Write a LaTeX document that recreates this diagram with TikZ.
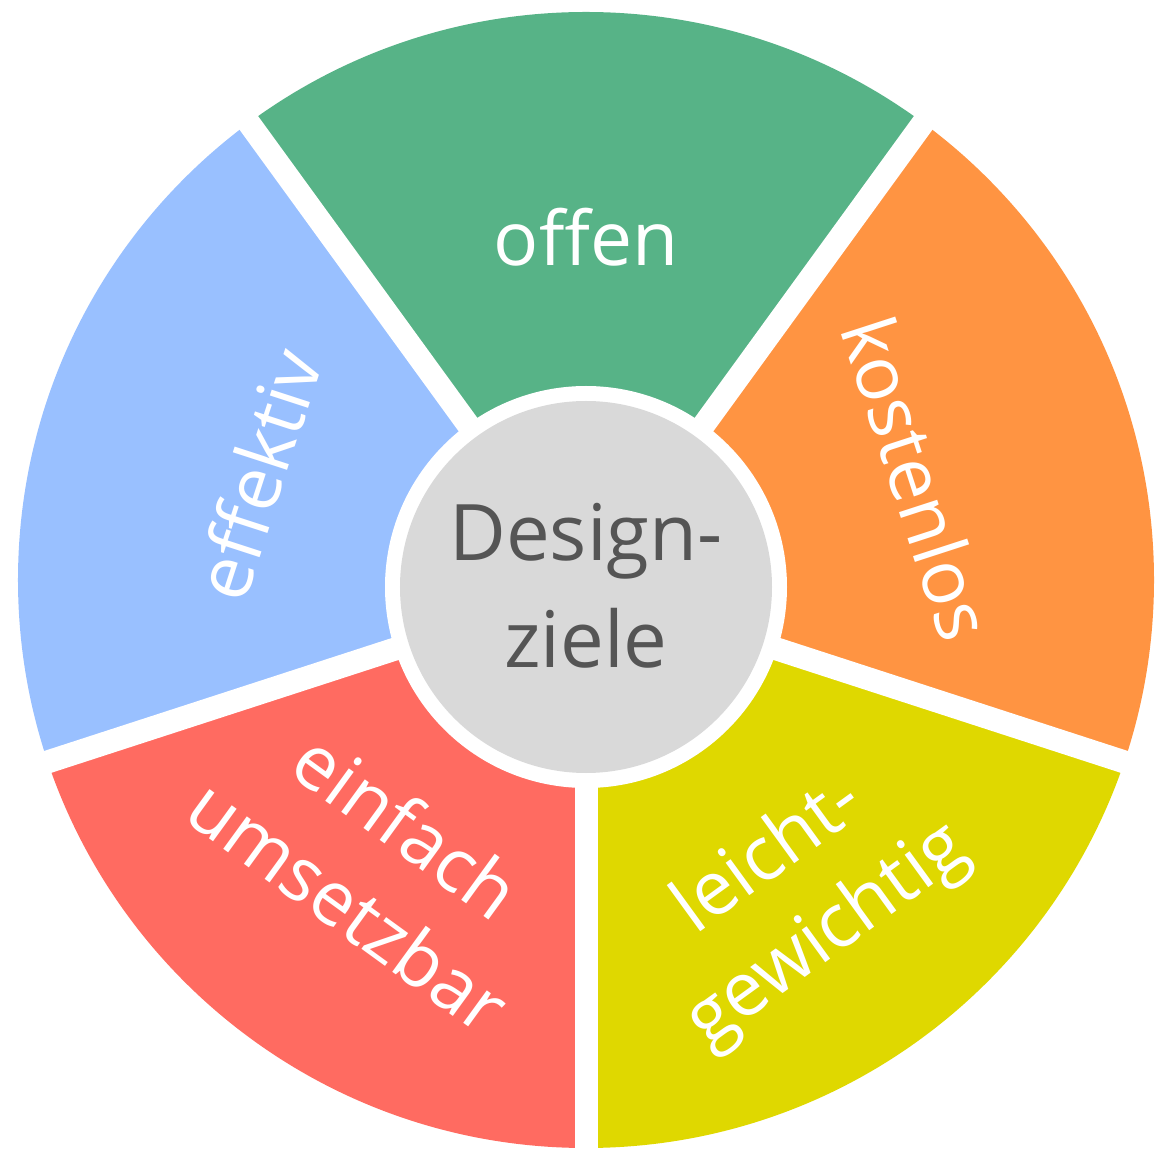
\documentclass[tikz,border=0pt]{standalone}
\usepackage{fontspec}
\setmainfont{Open Sans}
\definecolor{cgreen}{HTML}{57B387}
\definecolor{corange}{HTML}{FF9442}
\definecolor{cyellow}{HTML}{DFD800}
\definecolor{cred}{HTML}{FF6B61}
\definecolor{cblue}{HTML}{99C0FF}
\definecolor{cgray}{HTML}{D9D9D9}
\definecolor{ctext}{HTML}{555555}
\tikzset{
  lbl/.style={text=white, inner sep=0pt, align=center, font=\fontsize{75}{99}\selectfont},
  ctr/.style={text=ctext, inner sep=0pt, align=center, font=\fontsize{78}{107}\selectfont},
  gapline/.style={draw=white, line width=23pt}
}
\begin{document}
\begin{tikzpicture}[x=1pt,y=1pt]
\useasboundingbox (-586,-579) rectangle (580,587);
\begin{scope}
  \clip (0,7) circle (568);
  \fill[cgreen]  (0,0) -- (54:900) -- (126:900) -- cycle;
  \fill[cblue]   (0,0) -- (126:900) -- (198:900) -- cycle;
  \fill[cred]    (0,0) -- (198:900) -- (270:900) -- cycle;
  \fill[cyellow] (0,0) -- (270:900) -- (342:900) -- cycle;
  \fill[corange] (0,0) -- (342:900) -- (414:900) -- cycle;
\end{scope}
\coordinate (o) at (0,0);
\foreach \a in {54,126,198,270,342}{
  \draw[gapline] (o) -- (\a:640);
}
\fill[white] (o) circle (201);
\fill[cgray] (o) circle (186);
\node[ctr] (center) at (0,1) {Design-\\ziele};
\node[lbl] (offen) at (0,350) {offen};
\node[lbl, rotate=-72] (kostenlos) at (332,109) {kostenlos};
\node[lbl, rotate=72] (effektiv) at (-329,113) {effektiv};
\node[lbl, rotate=-36] (einfach) at (-208,-278) {einfach\\umsetzbar};
\node[lbl, rotate=36] (leicht) at (213,-310) {leicht-\\gewichtig};
\end{tikzpicture}
\end{document}
